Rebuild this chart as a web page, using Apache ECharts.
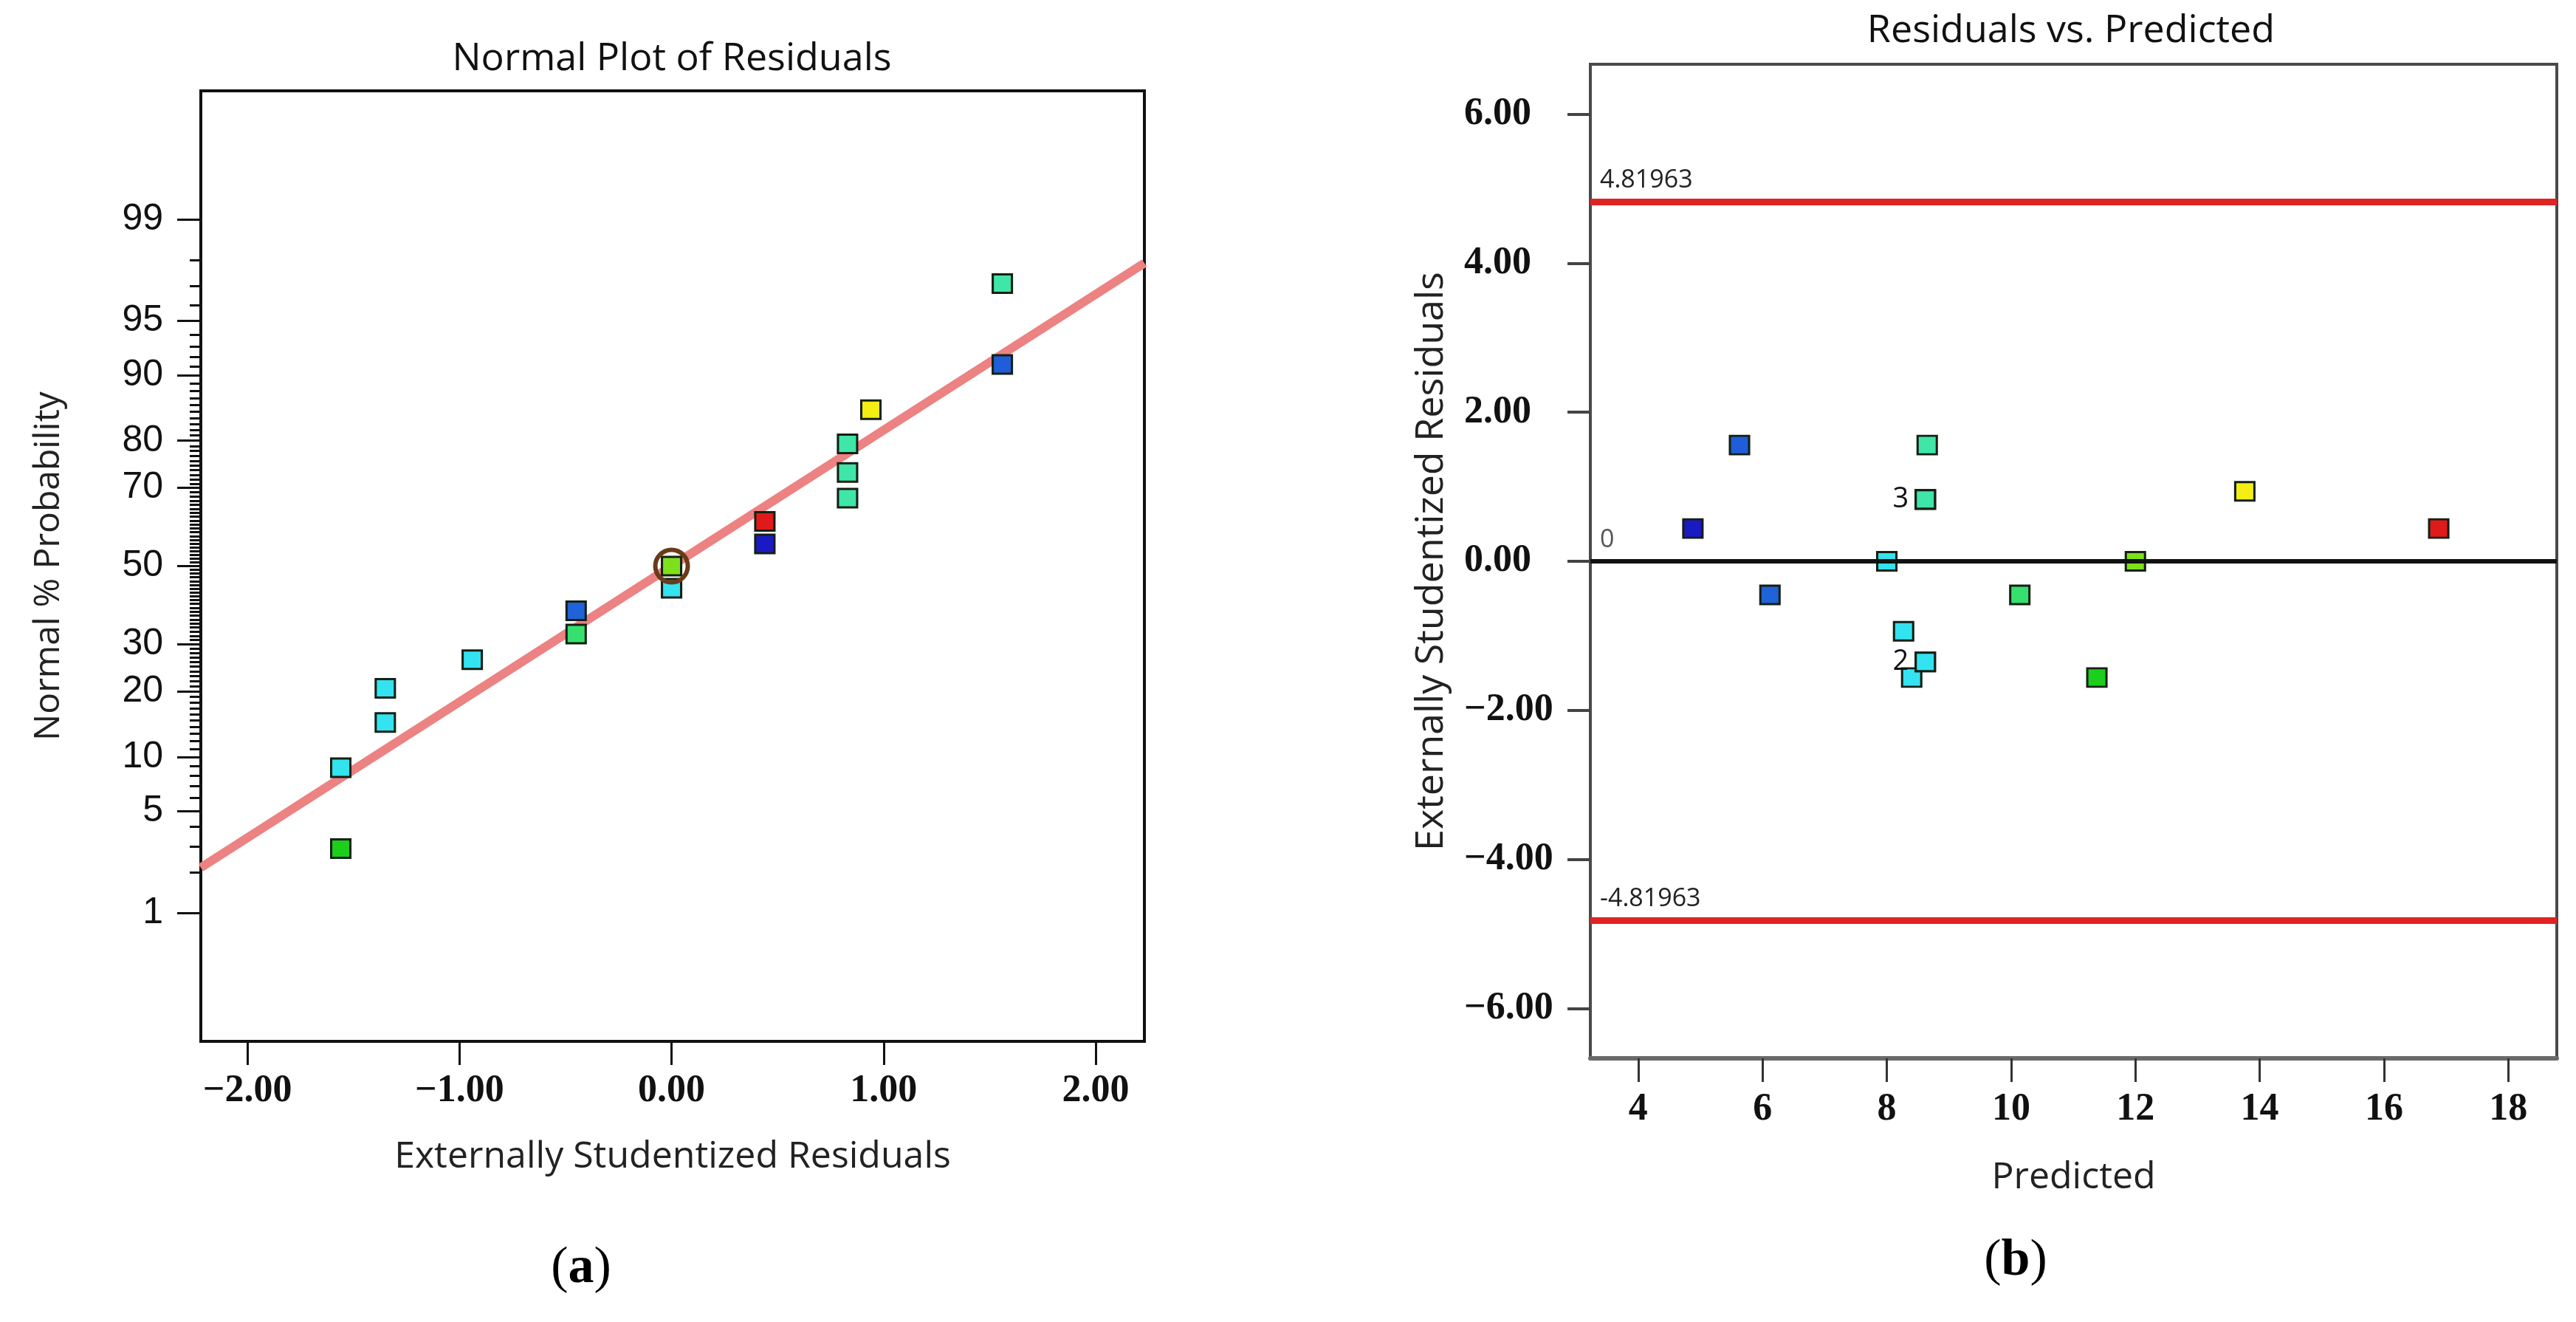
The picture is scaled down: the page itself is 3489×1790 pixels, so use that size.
<!DOCTYPE html>
<html>
<head>
<meta charset="utf-8">
<script src="https://cdn.jsdelivr.net/npm/echarts@6/dist/echarts.min.js"></script>
<style>
  html, body { margin: 0; padding: 0; background: #fff; }
  #chart { width: 3489px; height: 1790px; }
</style>
</head>
<body>
<div id="chart"></div>
<script>
// 17 runs, ordered by rank in the normal plot
var residuals = [-1.56, -1.56, -1.35, -1.35, -0.94, -0.45, -0.45, 0.00, 0.00, 0.44, 0.44, 0.83, 0.83, 0.83, 0.94, 1.56, 1.56];
var normalPct = [2.9, 8.8, 14.7, 20.6, 26.5, 32.4, 38.2, 44.1, 50.0, 55.9, 61.8, 67.6, 73.5, 79.4, 85.3, 91.2, 97.1];
var predicted = [11.38, 8.40, 8.62, 8.62, 8.27, 10.14, 6.12, 8.00, 12.00, 4.88, 16.88, 8.62, 8.62, 8.62, 13.76, 5.63, 8.65];
var overlapCount = ["", "", "", "2", "", "", "", "", "", "", "", "", "", "3", "", "", ""];
var pointColors = ["#1ccf1c", "#33e3f0", "#33e3f0", "#33e3f0", "#33e3f0", "#36e06c", "#2062d8", "#33e3f0", "#7ee01a",
                   "#1a1ac4", "#e01a1a", "#3fe6a8", "#3fe6a8", "#3fe6a8", "#f4ee12", "#1f5ed8", "#3fe6a8"];
var selectedRun = 8;

// fitted normal line, read at the box edges
var fitResid = [-2.22, 2.23];
var fitPct = [2.15, 97.9];

var probTicks = [1, 5, 10, 20, 30, 50, 70, 80, 90, 95, 99];
var residTicks = [-2, -1, 0, 1, 2];
var predTicks = [4, 6, 8, 10, 12, 14, 16, 18];
var studTicks = [-6, -4, -2, 0, 2, 4, 6];
var limitUpper = 4.81963;
var limitLower = -4.81963;

// inverse normal CDF (Acklam), the probability axis is linear in z
function probit(pct) {
  var p = pct / 100;
  var a = [-39.69683028665376, 220.9460984245205, -275.9285104469687, 138.3577518672690, -30.66479806614716, 2.506628277459239];
  var b = [-54.47609879822406, 161.5858368580409, -155.6989798598866, 66.80131188771972, -13.28068155288572];
  var c = [-0.007784894002430293, -0.3223964580411365, -2.400758277161838, -2.549732539343734, 4.374664141464968, 2.938163982698783];
  var d = [0.007784695709041462, 0.3224671290700398, 2.445134137142996, 3.754408661907416];
  var q, r;
  if (p < 0.02425) {
    q = Math.sqrt(-2 * Math.log(p));
    return (((((c[0]*q+c[1])*q+c[2])*q+c[3])*q+c[4])*q+c[5]) / ((((d[0]*q+d[1])*q+d[2])*q+d[3])*q+1);
  }
  if (p > 1 - 0.02425) {
    q = Math.sqrt(-2 * Math.log(1 - p));
    return -(((((c[0]*q+c[1])*q+c[2])*q+c[3])*q+c[4])*q+c[5]) / ((((d[0]*q+d[1])*q+d[2])*q+d[3])*q+1);
  }
  q = p - 0.5; r = q * q;
  return (((((a[0]*r+a[1])*r+a[2])*r+a[3])*r+a[4])*r+a[5])*q / (((((b[0]*r+b[1])*r+b[2])*r+b[3])*r+b[4])*r+1);
}

var probTickZ = probTicks.map(probit);
var probMinorZ = [];
for (var k = 1; k <= 99; k++) probMinorZ.push(probit(k));

function probLabel(v) {
  var best = 0;
  for (var i = 1; i < probTickZ.length; i++) {
    if (Math.abs(probTickZ[i] - v) < Math.abs(probTickZ[best] - v)) best = i;
  }
  return String(probTicks[best]);
}
function signed(v) {
  var s = Math.abs(v).toFixed(2);
  return v < 0 ? "\u2212" + s : s;
}

var NARROW = "'Liberation Sans Narrow', 'Liberation Sans', sans-serif";
var UI = "'Open Sans', sans-serif";
var SERIF = "'Liberation Serif', serif";

var normalData = residuals.map(function (r, i) { return [r, probit(normalPct[i])]; });
var rvpData = predicted.map(function (p, i) { return [p, residuals[i]]; });

var option = {
  backgroundColor: "#fff",
  animation: false,
  grid: [
    { left: 272, top: 123, width: 1278, height: 1287, show: true, borderColor: "#111", borderWidth: 4,
      backgroundColor: "transparent", outerBoundsMode: "none" },
    { left: 2154, top: 87, width: 1309, height: 1346, show: true, borderColor: "#4a4a4a", borderWidth: 4,
      backgroundColor: "transparent", outerBoundsMode: "none" }
  ],
  xAxis: [
    { gridIndex: 0, type: "value", min: -2.22, max: 2.23,
      axisLine: { show: true, onZero: false, lineStyle: { color: "#111", width: 4 } },
      axisTick: { show: true, customValues: residTicks, length: 32, lineStyle: { color: "#111", width: 3 } },
      axisLabel: { customValues: residTicks, formatter: signed, margin: 42, fontSize: 52, fontWeight: "bold", fontFamily: SERIF, color: "#111" },
      splitLine: { show: false },
      name: "Externally Studentized Residuals", nameLocation: "middle", nameGap: 132,
      nameTextStyle: { fontSize: 50, fontFamily: UI, color: "#222" } },
    { gridIndex: 1, type: "value", min: 3.23, max: 18.78,
      axisLine: { show: true, onZero: false, lineStyle: { color: "#6a6a6a", width: 6 } },
      axisTick: { show: true, customValues: predTicks, length: 32, lineStyle: { color: "#333", width: 3 } },
      axisLabel: { customValues: predTicks, margin: 44, fontSize: 52, fontWeight: "bold", fontFamily: SERIF, color: "#111" },
      splitLine: { show: false },
      name: "Predicted", nameLocation: "middle", nameGap: 137,
      nameTextStyle: { fontSize: 50, fontFamily: UI, color: "#222" } }
  ],
  yAxis: [
    { gridIndex: 0, type: "value", position: "left", min: -3.19, max: 3.19,
      axisLine: { show: true, onZero: false, lineStyle: { color: "#111", width: 4 } },
      axisTick: { show: true, customValues: probTickZ, length: 32, lineStyle: { color: "#111", width: 3 } },
      axisLabel: { customValues: probTickZ, formatter: probLabel, margin: 51, fontSize: 50, fontFamily: NARROW, color: "#111" },
      splitLine: { show: false },
      name: "Normal % Probability", nameLocation: "middle", nameGap: 182,
      nameTextStyle: { fontSize: 48, fontFamily: UI, color: "#222" } },
    { gridIndex: 0, type: "value", position: "left", min: -3.19, max: 3.19,
      axisLine: { show: false, onZero: false },
      axisTick: { show: true, customValues: probMinorZ, length: 15, lineStyle: { color: "#111", width: 3 } },
      axisLabel: { show: false },
      splitLine: { show: false } },
    { gridIndex: 1, type: "value", position: "left", min: -6.67, max: 6.67,
      axisLine: { show: true, onZero: false, lineStyle: { color: "#4a4a4a", width: 4 } },
      axisTick: { show: true, customValues: studTicks, length: 31, lineStyle: { color: "#444", width: 4 } },
      axisLabel: { customValues: studTicks, formatter: signed, align: "left", margin: 171,
                   fontSize: 52, fontWeight: "bold", fontFamily: SERIF, color: "#111" },
      splitLine: { show: false },
      name: "Externally Studentized Residuals", nameLocation: "middle", nameGap: 189,
      nameTextStyle: { fontSize: 52, fontFamily: UI, color: "#222" } }
  ],
  series: [
    { type: "line", xAxisIndex: 0, yAxisIndex: 0, z: 1, symbol: "none", silent: true,
      data: [[fitResid[0], probit(fitPct[0])], [fitResid[1], probit(fitPct[1])]],
      lineStyle: { color: "#ec8282", width: 12 } },
    { type: "scatter", xAxisIndex: 0, yAxisIndex: 0, z: 3, symbol: "rect", symbolSize: [26, 25],
      data: normalData,
      itemStyle: { color: function (p) { return pointColors[p.dataIndex]; }, borderColor: "#142014", borderWidth: 3, opacity: 1 } },
    { type: "scatter", xAxisIndex: 0, yAxisIndex: 0, z: 4, symbol: "circle", symbolSize: 44, silent: true,
      data: [normalData[selectedRun]],
      itemStyle: { color: "transparent", borderColor: "#6b3b18", borderWidth: 6, opacity: 1 } },
    { type: "scatter", xAxisIndex: 1, yAxisIndex: 2, z: 3, symbol: "rect", symbolSize: [26, 25],
      data: rvpData,
      itemStyle: { color: function (p) { return pointColors[p.dataIndex]; }, borderColor: "#142014", borderWidth: 3, opacity: 1 },
      label: { show: true, position: "left", distance: 8, fontSize: 38, fontFamily: UI, color: "#111",
               formatter: function (p) { return overlapCount[p.dataIndex]; } },
      markLine: {
        silent: true, symbol: "none", animation: false,
        label: { position: "insideStartTop", distance: [13, 12], fontSize: 34, fontFamily: UI, color: "#222" },
        data: [
          { yAxis: limitUpper, lineStyle: { color: "#e02323", width: 9, type: "solid" }, label: { formatter: "4.81963" } },
          { yAxis: limitLower, lineStyle: { color: "#e02323", width: 9, type: "solid" }, label: { formatter: "-4.81963" } },
          { yAxis: 0, lineStyle: { color: "#111", width: 6, type: "solid" }, label: { formatter: "0", color: "#555" } }
        ]
      } }
  ],
  graphic: [
    { type: "text", style: { x: 910, y: 80, text: "Normal Plot of Residuals", textAlign: "center",
      textVerticalAlign: "middle", fontSize: 52, fontFamily: UI, fill: "#111" } },
    { type: "text", style: { x: 2805, y: 42, text: "Residuals vs. Predicted", textAlign: "center",
      textVerticalAlign: "middle", fontSize: 52, fontFamily: UI, fill: "#111" } },
    { type: "text", style: { x: 787, y: 1718, text: "{p|(}{b|a}{p|)}", textAlign: "center", textVerticalAlign: "middle",
      rich: { p: { fontSize: 70, fontFamily: SERIF, fill: "#000" }, b: { fontSize: 70, fontFamily: SERIF, fontWeight: "bold", fill: "#000" } } } },
    { type: "text", style: { x: 2730, y: 1708, text: "{p|(}{b|b}{p|)}", textAlign: "center", textVerticalAlign: "middle",
      rich: { p: { fontSize: 70, fontFamily: SERIF, fill: "#000" }, b: { fontSize: 70, fontFamily: SERIF, fontWeight: "bold", fill: "#000" } } } }
  ]
};

var chart = echarts.init(document.getElementById("chart"), null, { renderer: "canvas" });
chart.setOption(option);
</script>
</body>
</html>
